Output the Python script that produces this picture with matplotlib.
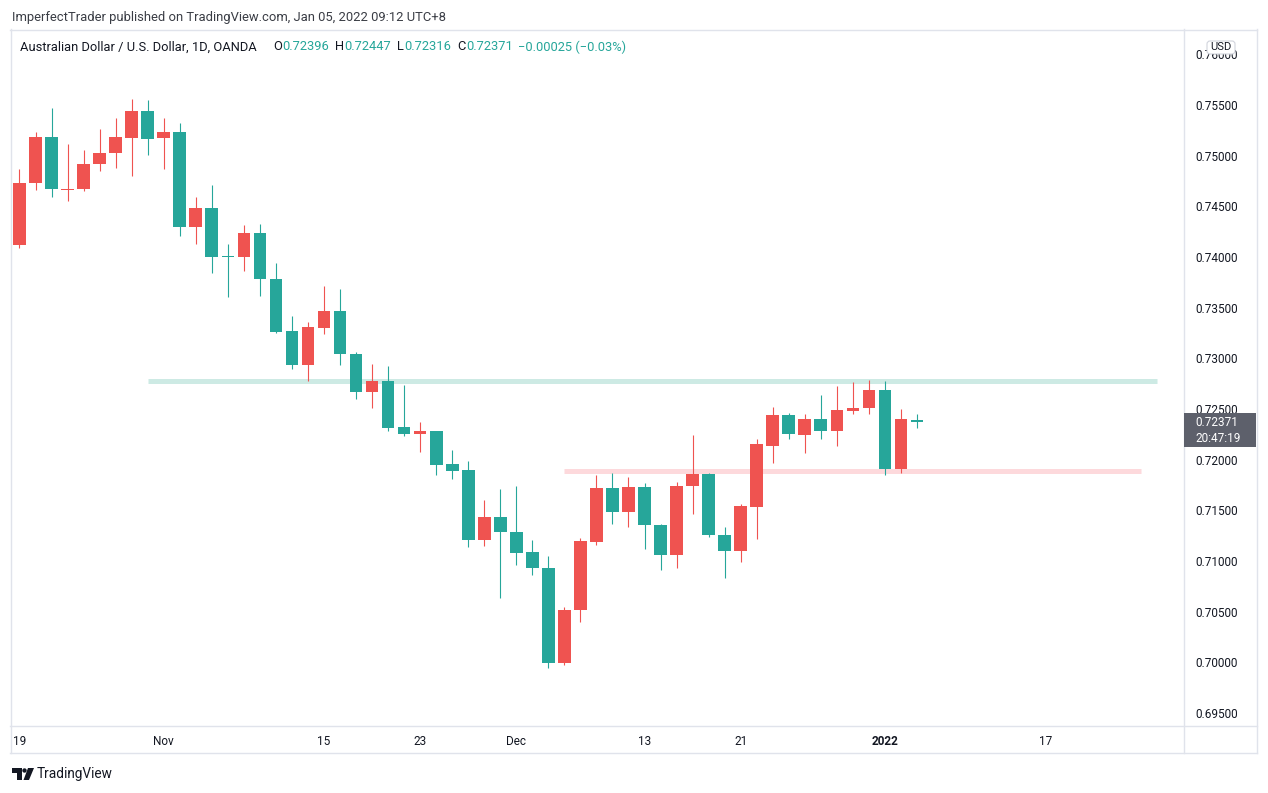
import numpy as np
import matplotlib
matplotlib.use("Agg")
import matplotlib.pyplot as plt
from matplotlib.patches import Rectangle, FancyBboxPatch, Polygon, Circle
from matplotlib.lines import Line2D
from matplotlib.transforms import IdentityTransform
from matplotlib.ticker import FormatStrFormatter

W, H = 1268, 793
UP = "#ef5350"
DOWN = "#26a69a"
TXT = "#131722"
FRAME = "#e0e3eb"

plt.rcParams["font.family"] = ["Roboto", "DejaVu Sans"]

# AUD/USD daily candles (OANDA)
dates = [
    "2021-10-19", "2021-10-20", "2021-10-21", "2021-10-22", "2021-10-25",
    "2021-10-26", "2021-10-27", "2021-10-28", "2021-10-29", "2021-11-01",
    "2021-11-02", "2021-11-03", "2021-11-04", "2021-11-05", "2021-11-08",
    "2021-11-09", "2021-11-10", "2021-11-11", "2021-11-12", "2021-11-15",
    "2021-11-16", "2021-11-17", "2021-11-18", "2021-11-19", "2021-11-22",
    "2021-11-23", "2021-11-24", "2021-11-25", "2021-11-26", "2021-11-29",
    "2021-11-30", "2021-12-01", "2021-12-02", "2021-12-03", "2021-12-06",
    "2021-12-07", "2021-12-08", "2021-12-09", "2021-12-10", "2021-12-13",
    "2021-12-14", "2021-12-15", "2021-12-16", "2021-12-17", "2021-12-20",
    "2021-12-21", "2021-12-22", "2021-12-23", "2021-12-24", "2021-12-27",
    "2021-12-28", "2021-12-29", "2021-12-30", "2021-12-31", "2022-01-03",
    "2022-01-04", "2022-01-05",
]
opens = [
    0.7412, 0.7473, 0.7518, 0.7466, 0.7467, 0.7492, 0.7503, 0.7517, 0.7544, 0.7517,
    0.7523, 0.7430, 0.7448, 0.7401, 0.7400, 0.7424, 0.7378, 0.7327, 0.7293, 0.7330,
    0.7347, 0.7304, 0.7267, 0.7278, 0.7232, 0.7225, 0.7228, 0.7196, 0.7190, 0.7121,
    0.7143, 0.7129, 0.7109, 0.7093, 0.6999, 0.7052, 0.7119, 0.7172, 0.7148, 0.7173,
    0.7136, 0.7106, 0.7174, 0.7186, 0.7126, 0.7110, 0.7153, 0.7214, 0.7244, 0.7224,
    0.7240, 0.7228, 0.7248, 0.7251, 0.7269, 0.7191, 0.72396,
]
highs = [
    0.7487, 0.7523, 0.7547, 0.7512, 0.7506, 0.7526, 0.7537, 0.7556, 0.7555, 0.7537,
    0.7532, 0.7459, 0.7471, 0.7413, 0.7432, 0.7433, 0.7394, 0.7342, 0.7336, 0.7371,
    0.7368, 0.7306, 0.7294, 0.7292, 0.7274, 0.7237, 0.7228, 0.7210, 0.7199, 0.7160,
    0.7171, 0.7174, 0.7121, 0.7105, 0.7055, 0.7123, 0.7185, 0.7187, 0.7183, 0.7177,
    0.7137, 0.7178, 0.7224, 0.7187, 0.7134, 0.7156, 0.7220, 0.7252, 0.7246, 0.7245,
    0.7264, 0.7273, 0.7277, 0.7279, 0.7278, 0.7250, 0.72447,
]
lows = [
    0.7409, 0.7466, 0.7459, 0.7455, 0.7465, 0.7485, 0.7488, 0.7480, 0.7501, 0.7487,
    0.7421, 0.7413, 0.7384, 0.7361, 0.7386, 0.7362, 0.7325, 0.7289, 0.7278, 0.7324,
    0.7293, 0.7260, 0.7251, 0.7228, 0.7223, 0.7208, 0.7185, 0.7181, 0.7114, 0.7115,
    0.7064, 0.7096, 0.7086, 0.6994, 0.6997, 0.7040, 0.7116, 0.7137, 0.7134, 0.7112,
    0.7091, 0.7093, 0.7146, 0.7124, 0.7083, 0.7099, 0.7122, 0.7197, 0.7220, 0.7207,
    0.7220, 0.7214, 0.7245, 0.7245, 0.7185, 0.7187, 0.72316,
]
closes = [
    0.7473, 0.7518, 0.7467, 0.7467, 0.7492, 0.7503, 0.7518, 0.7544, 0.7516, 0.7523,
    0.7430, 0.7448, 0.7400, 0.7400, 0.7424, 0.7378, 0.7326, 0.7293, 0.7331, 0.7347,
    0.7304, 0.7267, 0.7278, 0.7231, 0.7225, 0.7228, 0.7195, 0.7189, 0.7121, 0.7143,
    0.7129, 0.7108, 0.7093, 0.6999, 0.7052, 0.7120, 0.7172, 0.7148, 0.7173, 0.7136,
    0.7106, 0.7174, 0.7186, 0.7126, 0.7110, 0.7154, 0.7215, 0.7244, 0.7225, 0.7240,
    0.7228, 0.7249, 0.7251, 0.7269, 0.7191, 0.7240, 0.72371,
]

# drawn levels: (price, start date, end date, colour)
resistance = (0.72778, "2021-10-29", "2022-01-26", "#cdeae4")
support = (0.7189, "2021-12-06", "2022-01-25", "#fdd9dc")

tick_dates = ["2021-10-19", "2021-11-01", "2021-11-15", "2021-11-23", "2021-12-01",
              "2021-12-13", "2021-12-21", "2022-01-03", "2022-01-17"]
tick_labels = ["19", "Nov", "15", "23", "Dec", "13", "21", "2022", "17"]
price_ticks = np.arange(0.695, 0.76001, 0.005)


def bar_pos(d):
    # forex daily bars: one per weekday
    return np.busday_count(dates[0], d)


T = IdentityTransform()

fig = plt.figure(figsize=(W / 100, H / 100), dpi=100)
fig.patch.set_facecolor("white")

# chart pane in pixels: x 11..1183, y 30..725
ax = fig.add_axes([11 / W, 1 - 725 / H, (1183 - 11) / W, (725 - 30) / H])
ax.set_facecolor("white")
for s in ax.spines.values():
    s.set_visible(False)
ax.set_xlim(-0.53, 72.6)
ax.set_ylim(0.69382, 0.7624)

# level lines
for price, d0, d1, col in (resistance, support):
    ax.plot([bar_pos(d0), bar_pos(d1)], [price, price], color=col,
            linewidth=3.6, solid_capstyle="butt", zorder=1)

# candles
xs = np.array([bar_pos(d) for d in dates])
for x, o, hi, lo, c in zip(xs, opens, highs, lows, closes):
    col = UP if c >= o else DOWN
    ax.vlines(x, lo, hi, color=col, linewidth=0.8, zorder=2)
    ax.add_patch(Rectangle((x - 0.395, min(o, c)), 0.79, max(abs(c - o), 0.0001),
                           facecolor=col, edgecolor="none", zorder=3))

# price axis on the right
ax.yaxis.tick_right()
ax.set_yticks(price_ticks)
ax.yaxis.set_major_formatter(FormatStrFormatter("%.5f"))
ax.tick_params(axis="y", length=0, pad=8.6, labelsize=8.5, labelcolor=TXT)

# time axis
ax.set_xticks([bar_pos(d) for d in tick_dates])
ax.set_xticklabels(tick_labels)
ax.tick_params(axis="x", length=0, pad=7.5, labelsize=8.5, labelcolor=TXT)
for lbl in ax.get_xticklabels():
    if lbl.get_text() == "2022":
        lbl.set_fontweight("bold")

# frame lines (pixel coords, y down)
def hline(y, x0, x1):
    fig.add_artist(Line2D([x0, x1], [H - y, H - y], color=FRAME, linewidth=1, transform=T))


def vline(x, y0, y1):
    fig.add_artist(Line2D([x, x], [H - y0, H - y1], color=FRAME, linewidth=1, transform=T))


hline(29.5, 10, 1257)
hline(752.5, 10, 1257)
hline(725.5, 10, 1257)
vline(10.5, 29, 753)
vline(1256.5, 29, 753)
vline(1183.5, 29, 753)

# USD badge over the top price label
fig.add_artist(FancyBboxPatch((1207, H - 54), 28, 13,
                              boxstyle="round,pad=0,rounding_size=3",
                              facecolor="white", edgecolor="#d1d4dc", linewidth=0.8,
                              transform=T, zorder=6))
fig.text(1221, H - 47.5, "USD", ha="center", va="center", fontsize=8, color=TXT,
         transform=T, zorder=7)

# last price label
fig.add_artist(Rectangle((1184, H - 447), 72, 34, facecolor="#5d606b",
                         edgecolor="none", transform=T, zorder=6))
fig.text(1195, H - 423, "0.72371", ha="left", va="center", fontsize=8.5,
         color="white", transform=T, zorder=7)
fig.text(1195, H - 438, "20:47:19", ha="left", va="center", fontsize=8.5,
         color="white", transform=T, zorder=7)

# header
fig.text(12, H - 17, "ImperfectTrader published on TradingView.com, Jan 05, 2022 09:12 UTC+8",
         ha="left", va="center", fontsize=9.4, color="#3a3d45", transform=T)

renderer = fig.canvas.get_renderer()


def piece(x, s, color, size=9.3):
    t = fig.text(x, H - 47, s, ha="left", va="center", fontsize=size, color=color,
                 transform=T)
    return x + t.get_window_extent(renderer).width


piece(19.5, "Australian Dollar / U.S. Dollar, 1D, OANDA", TXT)
for x0, letter, val in [(273, "O", "0.72396"), (335, "H", "0.72447"),
                        (397, "L", "0.72316"), (457, "C", "0.72371")]:
    nx = piece(x0, letter, TXT)
    piece(nx + 0.5, val, DOWN)
piece(518, "\u22120.00025 (\u22120.03%)", DOWN)

# footer logo + wordmark
fig.add_artist(Polygon([(12, H - 768), (22, H - 768), (22, H - 780), (16.5, H - 780),
                        (16.5, H - 772.5), (12, H - 772.5)], closed=True,
                       facecolor=TXT, edgecolor="none", transform=T))
fig.add_artist(Circle((24.5, H - 770.5), 2.2, facecolor=TXT, edgecolor="none", transform=T))
fig.add_artist(Polygon([(28, H - 768), (34, H - 768), (29, H - 780), (23.5, H - 780)],
                       closed=True, facecolor=TXT, edgecolor="none", transform=T))
fig.text(37, H - 774, "TradingView", ha="left", va="center", fontsize=9.8,
         color=TXT, transform=T)

fig.savefig("out.png", dpi=100, facecolor="white")
